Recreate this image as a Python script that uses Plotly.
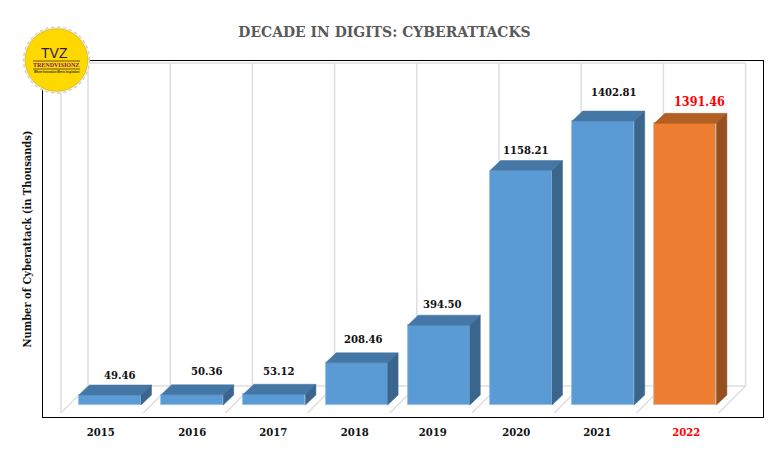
import plotly.graph_objects as go

# ---- data ----
years = ["2015", "2016", "2017", "2018", "2019", "2020", "2021", "2022"]
attacks = [49.46, 50.36, 53.12, 208.46, 394.50, 1158.21, 1402.81, 1391.46]
value_labels = ["49.46", "50.36", "53.12", "208.46", "394.50", "1158.21", "1402.81", "1391.46"]
chart_title = "DECADE IN DIGITS: CYBERATTACKS"
y_title = "Number of Cyberattack (in Thousands)"

# ---- styling / layout ----
W, H = 775, 463
L, R, T, B = 43, 763, 61, 417
X0_PX, X_STEP = 110.0, 82.2          # pixel centre of first bar, pixels per category
Y0_PX, Y_SCALE = 405.0, 0.2024       # pixel of value 0, pixels per unit
BAR_W = 62 / X_STEP
DX, DY = 10.5 / X_STEP, 10 / Y_SCALE  # depth of the 3-D effect
SERIF = "DejaVu Serif Condensed, DejaVu Serif, serif"

def xd(px): return (px - X0_PX) / X_STEP
def yd(py): return (Y0_PX - py) / Y_SCALE
def xp(px): return (px - L) / (R - L)
def yp(py): return (B - py) / (B - T)

n = len(years)
front = ["#5B9BD5"] * (n - 1) + ["#ED7D31"]
top_c = ["#4477A5"] * (n - 1) + ["#B25F24"]
side_c = ["#3A658D"] * (n - 1) + ["#955020"]
edge = ["#8DBAE2"] * (n - 1) + ["#C8BBB0"]
text_c = ["#111111"] * (n - 1) + ["#FF0000"]
label_size = [11.2] * (n - 1) + [12.5]
# pixel position of each value label
label_px = [119.5, 207, 279, 363.5, 442.3, 525.7, 613.5, 699]
label_py = [375, 371, 371, 339, 303.7, 150, 92, 101]
# pixel position of each category label
tick_px = [100.7, 192.3, 273.3, 354.7, 432.7, 516.3, 597.3, 686.3]

fig = go.Figure()

fig.add_trace(go.Bar(
    x=list(range(n)), y=attacks, width=BAR_W,
    marker=dict(color=front, line=dict(color=edge, width=0.8)),
    hoverinfo="skip", showlegend=False,
))

for i, v in enumerate(attacks):
    l, r = i - BAR_W / 2, i + BAR_W / 2
    fig.add_trace(go.Scatter(
        x=[l, r, r + DX, l + DX, l], y=[v, v, v + DY, v + DY, v],
        mode="lines", fill="toself", fillcolor=top_c[i], line=dict(width=0.5, color=top_c[i]),
        hoverinfo="skip", showlegend=False))
    fig.add_trace(go.Scatter(
        x=[r, r + DX, r + DX, r, r], y=[0, DY, v + DY, v, 0],
        mode="lines", fill="toself", fillcolor=side_c[i], line=dict(width=0.5, color=side_c[i]),
        hoverinfo="skip", showlegend=False))

annotations = []
for i, v in enumerate(attacks):
    annotations.append(dict(
        x=i, y=v, xref="x", yref="y", text=f"<b>{value_labels[i]}</b>", showarrow=False,
        xanchor="center", yanchor="middle",
        xshift=label_px[i] - (X0_PX + i * X_STEP),
        yshift=(Y0_PX - v * Y_SCALE) - label_py[i],
        font=dict(family=SERIF, size=label_size[i], color=text_c[i])))

# ---- chart walls ----
WALL = "#DEDEDE"
shapes = []
wl = dict(color=WALL, width=1.5)
bk_l, fr_l = 88.0, 61.0
wall_top, floor_back, floor_front = 63.0, 386.0, 413.0
shapes.append(dict(type="line", x0=xd(fr_l), x1=xd(fr_l), y0=yd(floor_front), y1=yd(wall_top), line=wl, layer="below"))
shapes.append(dict(type="line", x0=xd(fr_l), x1=xd(bk_l + 8 * X_STEP), y0=yd(wall_top), y1=yd(wall_top), line=wl, layer="below"))
shapes.append(dict(type="line", x0=xd(bk_l), x1=xd(bk_l + 8 * X_STEP), y0=yd(floor_back), y1=yd(floor_back), line=wl, layer="below"))
for k in range(9):
    bx = bk_l + k * X_STEP
    shapes.append(dict(type="line", x0=xd(bx), x1=xd(bx), y0=yd(floor_back), y1=yd(wall_top), line=wl, layer="below"))
    shapes.append(dict(type="line", x0=xd(bx - 27), x1=xd(bx), y0=yd(floor_front), y1=yd(floor_back), line=wl, layer="below"))

# ---- logo ----
cx, cy = 56.5, 60.0
def circle(r, **kw):
    return dict(type="circle", xref="paper", yref="paper", x0=xp(cx - r), x1=xp(cx + r),
                y0=yp(cy + r), y1=yp(cy - r), layer="above", **kw)
shapes.append(circle(33.0, fillcolor="#F3F1E8", line=dict(color="#D4D2C0", width=1.5, dash="dot")))
shapes.append(circle(31.3, fillcolor="#FFD800", line=dict(color="#C9AC10", width=0.6)))
for yy in (61.0, 69.0):
    shapes.append(dict(type="line", xref="paper", yref="paper", x0=xp(33), x1=xp(80), y0=yp(yy), y1=yp(yy),
                       line=dict(color="#6B5A20", width=1), layer="above"))
def logo_text(t, x, y, size, color, family):
    annotations.append(dict(x=xp(x), y=yp(y), xref="paper", yref="paper", text=t, showarrow=False,
                            xanchor="center", yanchor="middle", borderpad=0, borderwidth=0,
                            font=dict(size=size, color=color, family=family)))
logo_text("TVZ", 54.5, 53, 14, "#2A1A55", "Liberation Sans")
logo_text("<b>TRENDVISIONZ</b>", 56, 65, 6, "#7A1780", "Liberation Serif")
logo_text("<b>Where Innovation Meets Inspiration</b>", 56.5, 72, 2.7, "#222222", "Liberation Sans")

ticktext = [f"<b>{y}</b>" if i < n - 1 else f'<b><span style="color:#FF0000">{y}</span></b>'
            for i, y in enumerate(years)]

fig.update_layout(
    width=W, height=H, autosize=False,
    margin=dict(l=L, r=W - R, t=T, b=H - B, pad=0),
    paper_bgcolor="white", plot_bgcolor="white",
    showlegend=False, bargap=0,
    title=dict(text=f"<b>{chart_title}</b>", x=384.5 / W, xref="container", xanchor="center",
               y=1 - 31.5 / H, yref="container", yanchor="middle",
               font=dict(family=SERIF, size=15.5, color="#595959")),
    xaxis=dict(range=[xd(L), xd(R)], tickmode="array", tickvals=[xd(p) for p in tick_px], ticktext=ticktext,
               showgrid=False, zeroline=False, showline=True, linecolor="black", linewidth=1, mirror=True,
               ticks="outside", ticklen=5, tickcolor="rgba(0,0,0,0)",
               tickfont=dict(family=SERIF, size=11.2, color="#111111")),
    yaxis=dict(range=[yd(B), yd(T)], showgrid=False, zeroline=False, showline=True, linecolor="black",
               linewidth=1, mirror=True, showticklabels=False, ticks="",
               title=dict(text=f"<b>{y_title}</b>", standoff=8, font=dict(family=SERIF, size=11, color="#111111"))),
    shapes=shapes, annotations=annotations,
)
fig.write_html("out.html", config=dict(displayModeBar=False),
               post_script="document.body.style.margin='0';document.body.style.overflow='hidden';")
